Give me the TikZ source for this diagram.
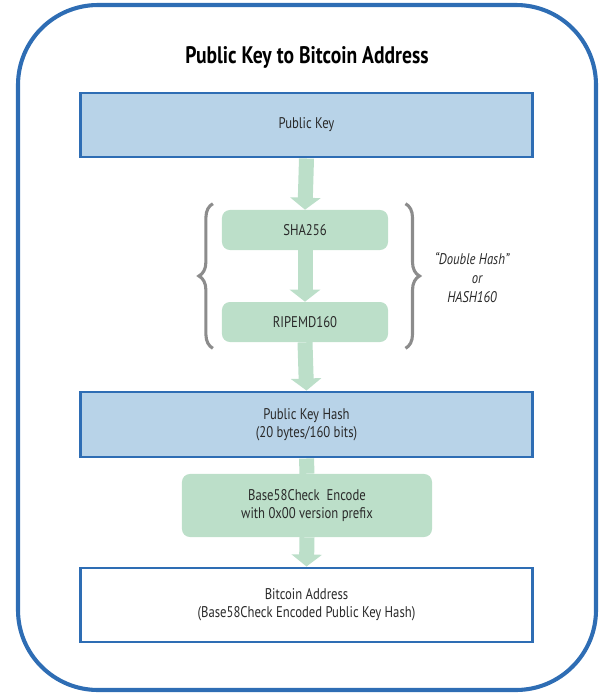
\documentclass[tikz,border=0pt]{standalone}
\usepackage{fontspec}
\setmainfont[FakeStretch=0.82]{PT Sans}
\usetikzlibrary{arrows.meta,positioning,backgrounds,decorations.pathreplacing}
\definecolor{frameblue}{HTML}{2E6DB4}
\definecolor{boxblue}{HTML}{B8D3E8}
\definecolor{hashgreen}{HTML}{BCDFC9}
\definecolor{bracegray}{HTML}{8C8C8C}
\definecolor{textgray}{HTML}{2A2A2A}
\begin{document}
\begin{tikzpicture}[x=0.025cm, y=-0.025cm,
    every node/.style={text=textgray, font=\fontsize{11}{13}\selectfont, align=center},
    keybox/.style={draw=frameblue, line width=2.1pt, fill=boxblue,
        minimum width=11.3cm, minimum height=1.6cm, inner sep=0pt},
    hashbox/.style={fill=hashgreen, rounded corners=0.2cm,
        minimum width=4.15cm, minimum height=1cm, inner sep=0pt},
    flow/.style={draw=hashgreen, line width=0.375cm},
    flowtip/.style={flow, -{Triangle[width=0.75cm, length=0.3cm]}},
    hashbrace/.style={draw=bracegray, line width=2.2pt,
        decorate, decoration={brace, amplitude=0.35cm}}]
        \useasboundingbox (0,0) rectangle (609,698);
        \draw[frameblue, line width=2.9pt, rounded corners=2cm] (18,5) rectangle (596,690);

        \node (title) at (307,57) {\fontsize{17}{20}\selectfont\bfseries\color{black}Public Key to Bitcoin Address};

        \node[keybox] (pubkey) at (306.5,125) {Public Key};
        \node[hashbox] (sha) at (305,230) {SHA256};
        \node[hashbox] (ripemd) at (305,322) {RIPEMD160};
        \node[keybox, minimum height=1.625cm] (pkhash) at (306.5,424.5) {Public Key Hash\\(20 bytes/160 bits)};
        \node[hashbox, minimum width=6.25cm, minimum height=1.575cm] (b58) at (307,505.5)
            {Base58Check\ \ Encode\\with 0x00 version prefix};
        \node[keybox, fill=white, minimum height=1.85cm] (addr) at (306.5,605)
            {Bitcoin Address\\(Base58Check Encoded Public Key Hash)};

        \begin{scope}[on background layer]
        \draw[flowtip] (pubkey.south) -- (sha.north);
        \draw[flowtip] (sha.south) -- (ripemd.north);
        \draw[flowtip] (ripemd.south) -- (pkhash.north);
        \draw[flow] (pkhash.south) -- (b58.north);
        \draw[flowtip] (b58.south) -- (addr.north);
        \end{scope}

        % double hash brackets
        \draw[hashbrace] ([xshift=-0.22cm, yshift=-0.15cm]ripemd.south west) -- ([xshift=-0.22cm, yshift=0.15cm]sha.north west);
        \draw[hashbrace] ([xshift=0.43cm, yshift=0.15cm]sha.north east) -- ([xshift=0.43cm, yshift=-0.15cm]ripemd.south east);
        \node[font=\fontsize{11}{13.5}\selectfont\itshape] (hashnote) at (472,278) {``Double Hash''\\\ \ \ or\\HASH160};
\end{tikzpicture}
\end{document}
